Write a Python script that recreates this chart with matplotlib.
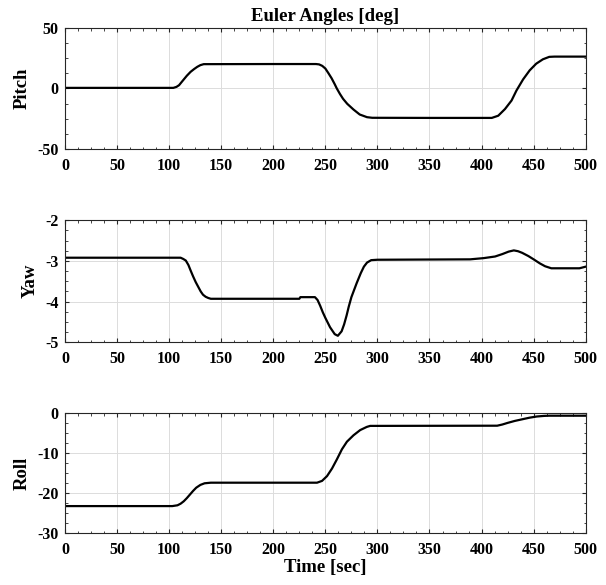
import matplotlib.pyplot as plt
from matplotlib.ticker import AutoMinorLocator

plt.rcParams['font.family'] = ['Liberation Serif', 'DejaVu Serif']
plt.rcParams['font.weight'] = 'bold'
plt.rcParams['axes.unicode_minus'] = False

# values (time in sec, angles in deg)
pitch_t = [0, 104, 107, 109.5, 114, 117, 120.6, 124, 127, 130, 133.2, 200, 241, 244, 247,
           250, 253, 256, 259, 261, 264, 267, 271, 277, 283, 290, 295, 350, 409.8, 416, 422.5,
           428.8, 433.5, 439.9, 446.2, 452.5, 458.9, 465, 470, 500]
pitch_v = [0.5, 0.5, 1.3, 2.7, 7.4, 10.5, 13.7, 16.0, 17.8, 19.2, 20.0, 20.1, 20.1, 19.8, 18.6,
           16.4, 12.5, 8.4, 3.5, 0, -4.5, -8.5, -12.6, -17.3, -21.4, -23.6, -24.1, -24.2, -24.2,
           -22.4, -16.9, -9.9, -1.7, 7.5, 14.9, 20.4, 24.0, 26.0, 26.2, 26.2]

yaw_t = [0, 111, 113.5, 116, 118.5, 120.7, 123, 125.5, 128, 130.3, 132.5, 135, 137.5, 140,
         225, 226, 240, 242.5, 245, 247.5, 250, 254.5, 259, 262, 265.6, 268, 270.4, 272.5, 275,
         280, 284, 287, 290, 294, 300, 389, 402, 413, 420, 426, 431, 435, 439, 445, 450, 456,
         461, 467, 494, 500]
yaw_v = [-2.92, -2.92, -2.95, -2.99, -3.1, -3.24, -3.38, -3.52, -3.64, -3.75, -3.83, -3.88,
         -3.91, -3.93, -3.93, -3.89, -3.89, -3.96, -4.1, -4.26, -4.4, -4.63, -4.8, -4.84, -4.73,
         -4.56, -4.34, -4.12, -3.89, -3.55, -3.3, -3.14, -3.04, -2.98, -2.97, -2.96, -2.93, -2.89,
         -2.83, -2.77, -2.74, -2.76, -2.8, -2.88, -2.96, -3.06, -3.13, -3.18, -3.18, -3.14]

roll_t = [0, 103, 108, 111, 114, 117, 120, 123, 126, 130, 134, 140, 242, 246.8, 251.6, 256.4,
          261.1, 265.9, 270.7, 277, 283.4, 289.8, 293, 415, 420, 425, 432, 439, 446, 453, 460,
          465, 500]
roll_v = [-23.2, -23.2, -23, -22.6, -22, -21.2, -20.3, -19.4, -18.6, -17.9, -17.5, -17.35,
          -17.35, -16.9, -15.7, -13.8, -11.5, -9.0, -7.1, -5.5, -4.2, -3.4, -3.15, -3.1, -2.8,
          -2.4, -1.9, -1.5, -1.1, -0.8, -0.65, -0.6, -0.6]

panels = [
    (pitch_t, pitch_v, 'Pitch', (-50, 50), [-50, 0, 50]),
    (yaw_t, yaw_v, 'Yaw', (-5, -2), [-5, -4, -3, -2]),
    (roll_t, roll_v, 'Roll', (-30, 0), [-30, -20, -10, 0]),
]

fig = plt.figure(figsize=(6.06, 5.85), dpi=100)
boxes = [
    [0.1073, 0.7448, 0.8592, 0.2079],
    [0.1073, 0.4149, 0.8592, 0.2085],
    [0.1073, 0.0884, 0.8592, 0.2051],
]

for (t, v, name, ylim, yt), box in zip(panels, boxes):
    ax = fig.add_axes(box)
    ax.plot(t, v, color='black', lw=1.6)
    ax.set_xlim(0, 500)
    ax.set_ylim(*ylim)
    ax.set_xticks(range(0, 501, 50))
    ax.set_yticks(yt)
    ax.xaxis.set_minor_locator(AutoMinorLocator(4))
    ax.yaxis.set_minor_locator(AutoMinorLocator(4))
    ax.grid(True, which='major', color='#dcdcdc', lw=0.7)
    ax.set_axisbelow(True)
    ax.tick_params(which='both', direction='in', top=True, right=True,
                   labelsize=11.5, color='#262626')
    ax.tick_params(axis='x', which='major', pad=6)
    ax.tick_params(axis='y', which='major', pad=4.5)
    ax.tick_params(which='major', length=3)
    ax.tick_params(which='minor', length=1.8)
    for s in ax.spines.values():
        s.set_color('#262626')
        s.set_linewidth(0.8)
    ax.set_ylabel(name, fontsize=13.5, fontweight='bold', labelpad=5)
    if name == 'Pitch':
        ax.set_title('Euler Angles [deg]', fontsize=13.5, fontweight='bold', pad=5)
    if name == 'Roll':
        ax.set_xlabel('Time [sec]', fontsize=13.5, fontweight='bold', labelpad=1)

fig.savefig('out.png', dpi=100)
